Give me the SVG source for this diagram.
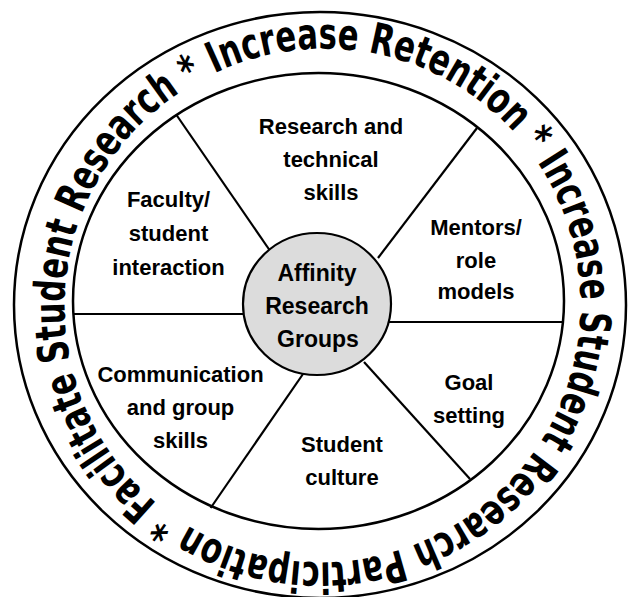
<svg xmlns="http://www.w3.org/2000/svg" width="629" height="597" viewBox="0 0 629 597">
  <style>
    .ring { fill: none; stroke: #000; stroke-width: 2.5; }
    .spoke { stroke: #000; stroke-width: 2.2; fill: none; }
    .hub { fill: #dcdcdc; stroke: #000; stroke-width: 2.2; }
    .lbl { font-family: "Liberation Sans", Arial, sans-serif; font-weight: bold; font-size: 22px; fill: #000; text-anchor: middle; }
    .hubtxt { font-size: 23px; }
    .band { font-family: "DejaVu Sans Condensed", "Liberation Sans", sans-serif; font-weight: bold; font-size: 43px; fill: #000; }
  </style>
  <defs>
    <!-- baseline circle for the lettering that runs round the band, clockwise -->
    <path id="bandPath" d="M214.3,73.5 A256,256 0 1,1 430.7,537.5 A256,256 0 1,1 214.3,73.5"/>
  </defs>
  <rect width="629" height="597" fill="#fff"/>

  <g id="outer-band">
    <ellipse class="ring" cx="320" cy="305" rx="306" ry="293"/>
    <text class="band"><textPath href="#bandPath" textLength="1604" lengthAdjust="spacingAndGlyphs">Increase Retention * Increase Student Research Participation * Facilitate Student Research * </textPath></text>
  </g>

  <g id="wheel">
    <ellipse class="ring" cx="318.5" cy="301" rx="245.5" ry="228"/>
  </g>

  <g id="connectors">
    <line class="spoke" x1="176.5" y1="115" x2="269.5" y2="250"/>
    <line class="spoke" x1="477" y1="128" x2="378" y2="258"/>
    <line class="spoke" x1="73" y1="314" x2="244" y2="314"/>
    <line class="spoke" x1="389" y1="322" x2="564" y2="322"/>
    <line class="spoke" x1="303" y1="374" x2="210.6" y2="508"/>
    <line class="spoke" x1="364" y1="362" x2="470" y2="479"/>
  </g>

  <g id="research-skills">
    <text class="lbl" x="331" y="133.5">Research and</text>
    <text class="lbl" x="331" y="166.5">technical</text>
    <text class="lbl" x="331" y="199.5">skills</text>
  </g>
  <g id="faculty-interaction">
    <text class="lbl" x="168.5" y="206.5">Faculty/</text>
    <text class="lbl" x="168.5" y="240.5">student</text>
    <text class="lbl" x="168.5" y="274.5">interaction</text>
  </g>
  <g id="mentors">
    <text class="lbl" x="476" y="234.5">Mentors/</text>
    <text class="lbl" x="476" y="267.5">role</text>
    <text class="lbl" x="476" y="298.5">models</text>
  </g>
  <g id="communication">
    <text class="lbl" x="180.5" y="382">Communication</text>
    <text class="lbl" x="180.5" y="415">and group</text>
    <text class="lbl" x="180.5" y="448">skills</text>
  </g>
  <g id="goal-setting">
    <text class="lbl" x="469" y="389.5">Goal</text>
    <text class="lbl" x="469" y="422.5">setting</text>
  </g>
  <g id="student-culture">
    <text class="lbl" x="342" y="451.5">Student</text>
    <text class="lbl" x="342" y="484.5">culture</text>
  </g>

  <g id="affinity-groups">
    <ellipse class="hub" cx="317" cy="304" rx="74" ry="71"/>
    <text class="lbl hubtxt" x="317" y="280.5">Affinity</text>
    <text class="lbl hubtxt" x="317" y="313.5">Research</text>
    <text class="lbl hubtxt" x="318" y="346.5">Groups</text>
  </g>
</svg>
